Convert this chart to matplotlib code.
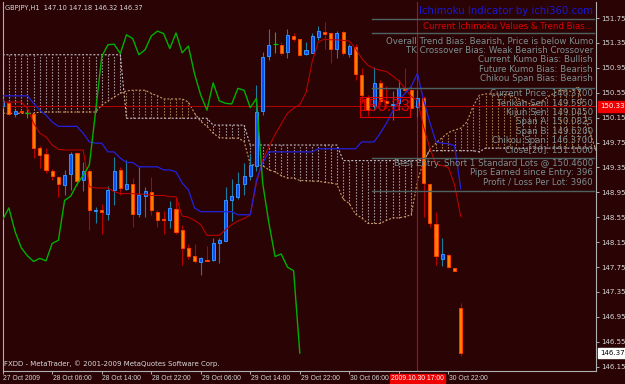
import matplotlib
matplotlib.use("Agg")
import matplotlib.pyplot as plt
import matplotlib.transforms as mtrans
from matplotlib.patches import Rectangle
from matplotlib.lines import Line2D

# ---------------- data ----------------
opens = [150.34, 150.39, 150.21, 150.25, 150.22, 150.21, 149.67, 149.57, 149.30, 149.19,
         149.07, 149.24, 149.58, 149.15, 149.30, 148.65, 148.66, 148.61, 148.98, 149.31,
         149.00, 149.08, 148.61, 148.89, 148.95, 148.64, 148.53, 148.51, 148.68, 148.35,
         148.06, 147.93, 147.83, 147.87, 147.86, 148.14, 148.17, 148.82, 148.88, 149.08,
         149.21, 149.37, 150.25, 151.14, 151.33, 151.32, 151.20, 151.46, 151.41, 151.17,
         151.19, 151.44, 151.53, 151.51, 151.26, 151.52, 151.17, 151.29, 150.83, 150.48,
         150.33, 150.70, 150.42, 150.35, 150.38, 150.62, 150.60, 150.32, 150.46, 149.08,
         148.44, 147.88, 147.94, 147.73, 147.10]
highs = [150.46, 150.42, 150.28, 150.28, 150.30, 150.22, 149.70, 149.66, 149.32, 149.21,
         149.31, 149.60, 149.60, 149.43, 149.32, 148.72, 148.76, 149.05, 149.52, 149.36,
         149.47, 149.18, 149.35, 149.03, 149.19, 148.66, 148.65, 148.81, 148.88, 148.43,
         148.12, 148.12, 147.91, 148.09, 148.21, 148.21, 149.04, 149.16, 149.28, 149.42,
         149.57, 150.68, 151.21, 151.57, 151.53, 151.37, 151.57, 151.51, 151.42, 151.36,
         151.51, 151.62, 151.69, 151.53, 151.54, 151.54, 151.34, 151.33, 150.94, 150.52,
         150.97, 150.76, 150.65, 150.58, 150.76, 150.94, 150.65, 150.59, 150.50, 149.10,
         148.64, 148.21, 147.96, 147.74, 147.18]
lows = [150.30, 150.19, 150.16, 150.22, 150.14, 149.50, 149.34, 149.26, 149.15, 148.88,
        148.91, 148.98, 149.05, 148.97, 148.35, 148.46, 148.28, 148.51, 148.74, 148.90,
        148.99, 148.40, 148.56, 148.56, 148.59, 148.40, 148.28, 148.38, 148.28, 147.78,
        147.88, 147.81, 147.62, 147.84, 147.85, 147.81, 148.17, 148.49, 148.85, 148.91,
        149.15, 149.30, 150.20, 151.08, 151.19, 151.16, 151.10, 151.38, 151.14, 151.16,
        151.18, 151.40, 151.26, 151.02, 151.10, 151.15, 151.12, 150.75, 150.38, 150.18,
        150.27, 150.36, 150.30, 150.11, 150.27, 150.55, 150.27, 150.16, 148.56, 148.40,
        147.78, 147.76, 147.73, 147.68, 146.32]
closes = [150.41, 150.21, 150.26, 150.24, 150.22, 149.66, 149.55, 149.31, 149.21, 149.08,
          149.23, 149.57, 149.14, 149.29, 148.67, 148.67, 148.63, 148.99, 149.30, 149.02,
          149.08, 148.61, 148.90, 148.97, 148.66, 148.51, 148.51, 148.70, 148.32, 148.06,
          147.93, 147.84, 147.89, 147.85, 148.13, 148.18, 148.82, 148.89, 149.08, 149.22,
          149.39, 150.24, 151.13, 151.32, 151.33, 151.18, 151.48, 151.42, 151.16, 151.24,
          151.46, 151.54, 151.50, 151.26, 151.51, 151.19, 151.30, 150.85, 150.51, 150.27,
          150.71, 150.42, 150.38, 150.37, 150.62, 150.59, 150.31, 150.46, 149.10, 148.46,
          147.92, 147.96, 147.75, 147.69, 146.37]
tenkan = [150.40, 150.40, 150.40, 150.40, 150.30, 150.06, 149.90, 149.84, 149.71, 149.64,
          149.63, 149.63, 149.63, 149.63, 149.04, 149.02, 149.02, 149.02, 148.96, 148.93,
          148.93, 148.93, 148.92, 148.92, 148.90, 148.90, 148.90, 148.88, 148.88, 148.57,
          148.55, 148.50, 148.43, 148.26, 148.26, 148.26, 148.35, 148.43, 148.49, 148.53,
          148.59, 149.10, 149.47, 149.68, 149.88, 150.05, 150.22, 150.30, 150.36, 150.55,
          151.05, 151.37, 151.41, 151.40, 151.40, 151.39, 151.38, 151.26, 151.10, 150.99,
          150.94, 150.91, 150.89, 150.82, 150.74, 150.62, 150.49, 150.43, 150.00, 149.66,
          149.40, 149.38, 149.35, 149.07, 148.56]
kijun = [150.50, 150.50, 150.50, 150.50, 150.50, 150.38, 150.27, 150.19, 150.08, 150.01,
         150.01, 150.01, 150.01, 149.90, 149.76, 149.74, 149.74, 149.60, 149.60, 149.50,
         149.43, 149.43, 149.36, 149.36, 149.36, 149.36, 149.31, 149.31, 149.28, 149.10,
         148.99, 148.70, 148.64, 148.64, 148.64, 148.64, 148.64, 148.64, 148.59, 148.59,
         148.59, 149.15, 149.42, 149.60, 149.60, 149.60, 149.60, 149.60, 149.60, 149.60,
         149.60, 149.65, 149.65, 149.65, 149.65, 149.65, 149.65, 149.65, 149.76, 149.76,
         149.76, 149.90, 150.06, 150.25, 150.43, 150.54, 150.65, 150.86, 150.43, 150.08,
         149.76, 149.74, 149.73, 149.70, 149.01]
span_a = [150.22, 150.22, 150.22, 150.22, 150.22, 150.22, 150.24, 150.24, 150.24, 150.24,
          150.24, 150.24, 150.24, 150.24, 150.24, 150.24, 150.35, 150.42, 150.48, 150.54,
          150.58, 150.59, 150.59, 150.59, 150.54, 150.50, 150.45, 150.45, 150.45, 150.45,
          150.40, 150.22, 150.09, 150.01, 149.90, 149.83, 149.82, 149.82, 149.82, 149.77,
          149.40, 149.38, 149.38, 149.31, 149.28, 149.22, 149.18, 149.18, 149.14, 149.14,
          149.13, 149.13, 149.11, 149.10, 149.08, 148.84, 148.77, 148.60, 148.54, 148.45,
          148.45, 148.45, 148.50, 148.54, 148.54, 148.56, 148.59, 149.13, 149.45, 149.64,
          149.74, 149.83, 149.91, 149.95, 149.98, 150.08, 150.33, 150.51, 150.53, 150.53,
          150.53, 150.52, 150.52, 150.46, 150.43, 150.38, 150.35, 150.41, 150.48, 150.54,
          150.59, 150.58, 150.57, 150.65, 150.22, 149.87, 149.58]
span_b = [151.16] * 20 + [150.14] * 14 + [150.03] * 6 + [149.71] * 15 + [149.46] * 14 \
         + [149.62] * 8 + [149.60] + [149.66] * 19
chikou_shift = 26

x_tick_pos = [0, 8, 16, 24, 32, 40, 48, 56, 64, 72]
x_label_pos = [0, 8, 16, 24, 32, 40, 48, 56, 72]
x_tick_labels = ["27 Oct 2009", "28 Oct 06:00", "28 Oct 14:00", "28 Oct 22:00",
                 "29 Oct 06:00", "29 Oct 14:00", "29 Oct 22:00", "30 Oct 06:00",
                 "30 Oct 22:00"]
y_ticks = [146.15, 146.55, 146.95, 147.35, 147.75, 148.15, 148.55, 148.95,
           149.35, 149.75, 150.15, 150.55, 150.95, 151.35, 151.75]

title_text = "GBPJPY,H1  147.10 147.18 146.32 146.37"
copyright_text = "FXDD - MetaTrader, \u00a9 2001-2009 MetaQuotes Software Corp."
panel_title = "Ichimoku Indicator by ichi360.com"
panel_sub = "Current Ichimoku Values & Trend Bias..."
bias_lines = ["Overall Trend Bias: Bearish, Price is below Kumo",
              "TK Crossover Bias: Weak Bearish Crossover",
              "Current Kumo Bias: Bullish",
              "Future Kumo Bias: Bearish",
              "Chikou Span Bias: Bearish"]
value_lines = ["Current Price: 146.3700", "Tenkan Sen: 149.5950", "Kijun Sen: 149.0450",
               "Span A: 150.0825", "Span B: 149.6200", "Chikou Span: 146.3700",
               "Close[26]: 151.1000"]
entry_lines = ["Best Entry: Short 1 Standard Lots @ 150.4600",
               "Pips Earned since Entry: 396",
               "Profit / Loss Per Lot: 3960"]
cursor_bar = 67
cursor_label = "2009.10.30 17:00"
hline_price = 150.33
last_price = 146.37

# ---------------- style ----------------
W, H = 625, 384
BG = "#2a0305"
FG = "#d8d8d8"
BULL_FILL, BULL_EDGE, BULL_WICK = "#1050f0", "#3094ff", "#1a7e9e"
BEAR_FILL, BEAR_EDGE, BEAR_WICK = "#ff8000", "#ff3a00", "#b80000"
DOJI = "#00c000"
TAN, THISTLE = "#c99a62", "#c4c0c8"
PANEL_GRAY = "#7d8f90"
RULE = "#4f6262"
SMALL_FONT = ["Liberation Sans", "DejaVu Sans"]

plt.rcParams['font.family'] = ['DejaVu Sans']

fig = plt.figure(figsize=(W / 100, H / 100), dpi=100, facecolor=BG)
ax = fig.add_axes([2.5 / W, 1 - 371 / H, 593 / W, 369 / H], facecolor=BG)
ax.set_xlim(-0.03, 95.77)
ax.set_ylim(146.081, 152.007)


def fx(px):
    return px / W


def fy(py):
    return 1 - py / H


# Kumo (cloud) as dotted vertical histogram
idx_cloud = list(range(len(span_a)))
lo = [min(a, b) for a, b in zip(span_a, span_b)]
hi = [max(a, b) for a, b in zip(span_a, span_b)]
cols = [TAN if a >= b else THISTLE for a, b in zip(span_a, span_b)]
ax.vlines(idx_cloud, lo, hi, colors=cols, linestyles=(0, (1.1, 1.6)), lw=0.8, zorder=1)
ax.plot(idx_cloud, span_a, color=TAN, ls=(0, (1.8, 1.6)), lw=0.8, zorder=1)
ax.plot(idx_cloud, span_b, color=THISTLE, ls=(0, (1.8, 1.6)), lw=0.8, zorder=1)

# horizontal / vertical red lines
ax.axhline(hline_price, color="#b00000", lw=0.75, zorder=2)
ax.axvline(cursor_bar, color="#d00000", lw=0.8, zorder=2)

# candles
bw = 0.5
for i, (o, h, l, c) in enumerate(zip(opens, highs, lows, closes)):
    if c > o:
        fill, edge, wick = BULL_FILL, BULL_EDGE, BULL_WICK
    elif c < o:
        fill, edge, wick = BEAR_FILL, BEAR_EDGE, BEAR_WICK
    else:
        fill, edge, wick = DOJI, DOJI, DOJI
    ax.vlines(i, l, h, colors=wick, lw=0.8, zorder=3)
    if c == o:
        ax.hlines(o, i - 0.4, i + 0.4, colors=DOJI, lw=0.9, zorder=4)
    else:
        ax.add_patch(Rectangle((i - bw / 2, min(o, c)), bw, abs(c - o),
                               facecolor=fill, edgecolor=edge, lw=0.7, zorder=4))

# Ichimoku lines
bars = list(range(len(closes)))
ax.plot(bars, tenkan, color="#c00000", lw=0.75, zorder=5)
ax.plot(bars, kijun, color="#2222dd", lw=0.9, zorder=5)
ax.plot(bars[:len(closes) - chikou_shift], closes[chikou_shift:], color="#00b000", lw=1.0, zorder=5)

# big price box
x0 = (360 - 2.7) / 6.19
x1 = (410 - 2.7) / 6.19
ax.add_patch(Rectangle((x0, 150.165), x1 - x0, 150.486 - 150.165, fill=False,
                       edgecolor="#e00000", lw=0.8, zorder=6))
ax.text((x0 + x1) / 2, 150.325, "150.33", color="#e00000", fontsize=12,
        family=SMALL_FONT, ha="center", va="center", zorder=6)

# axes styling
for s in ["left", "bottom", "right"]:
    ax.spines[s].set_color("#b0b0b0")
    ax.spines[s].set_linewidth(0.8)
ax.spines["top"].set_visible(False)
ax.yaxis.tick_right()
ax.set_yticks(y_ticks)
ax.set_yticklabels([f"{v:.2f}" for v in y_ticks])
ax.tick_params(axis="y", length=2.5, width=0.7, colors="#b0b0b0", labelcolor=FG,
               labelsize=5, pad=1.5)
ax.set_xticks(x_tick_pos)
ax.set_xticklabels([""] * len(x_tick_pos))
ax.tick_params(axis="x", length=2.5, width=0.7, colors="#b0b0b0")
ax.tick_params(axis="y", which="both", left=False)

trans_x = mtrans.blended_transform_factory(ax.transData, fig.transFigure)
for p, lab in zip(x_label_pos, x_tick_labels):
    ax.text(p + 0.12, fy(378.5), lab, transform=trans_x, color=FG, fontsize=4.9,
            family=SMALL_FONT, ha="left", va="center", clip_on=False)
# cursor time label
ax.text(cursor_bar, fy(378.3), cursor_label, transform=trans_x, color="white", fontsize=4.9,
        family=SMALL_FONT, ha="center", va="center", zorder=10, clip_on=False,
        bbox=dict(boxstyle="square,pad=0.12", fc="#f00000", ec="#f00000"))

# right axis price boxes
trans_y = mtrans.blended_transform_factory(fig.transFigure, ax.transData)
ax.text(fx(600.5), hline_price, f"{hline_price:.2f}", transform=trans_y, color="white",
        fontsize=5, ha="left", va="center", zorder=10, clip_on=False,
        bbox=dict(boxstyle="square,pad=0.3", fc="#f00000", ec="#f00000"))
ax.text(fx(600.5), last_price, f"{last_price:.2f}", transform=trans_y, color="black",
        fontsize=5, ha="left", va="center", zorder=10, clip_on=False,
        bbox=dict(boxstyle="square,pad=0.3", fc="white", ec="white"))

# header / footer text
fig.text(fx(5), fy(8), title_text, color=FG, fontsize=4.8, ha="left", va="center")
fig.text(fx(4.5), fy(364), copyright_text, color=FG, fontsize=5.0, ha="left", va="center")

# panel
RX = fx(593)
fig.text(RX, fy(11), panel_title, color="#1818d8", fontsize=7.3, ha="right", va="center", zorder=10)
for yy in [19.3, 33.3, 87.7, 158.3, 190.7]:
    fig.add_artist(Line2D([fx(371.5), fx(594)], [fy(yy), fy(yy)], color=RULE, lw=1.0, zorder=9))
fig.text(RX, fy(26.7), panel_sub, color="#e00000", fontsize=6.2, ha="right", va="center", zorder=10)
for k, s in enumerate(bias_lines):
    fig.text(RX, fy(41.3 + 9.35 * k), s, color=PANEL_GRAY, fontsize=6.2, ha="right",
             va="center", zorder=10)
for k, s in enumerate(value_lines):
    fig.text(RX, fy(94 + 9.33 * k), s, color=PANEL_GRAY, fontsize=6.2, ha="right",
             va="center", zorder=10)
for k, s in enumerate(entry_lines):
    fig.text(RX, fy(163.7 + 9.3 * k), s, color=PANEL_GRAY, fontsize=6.2, ha="right",
             va="center", zorder=10)

fig.savefig("out.png", dpi=100, facecolor=BG)
